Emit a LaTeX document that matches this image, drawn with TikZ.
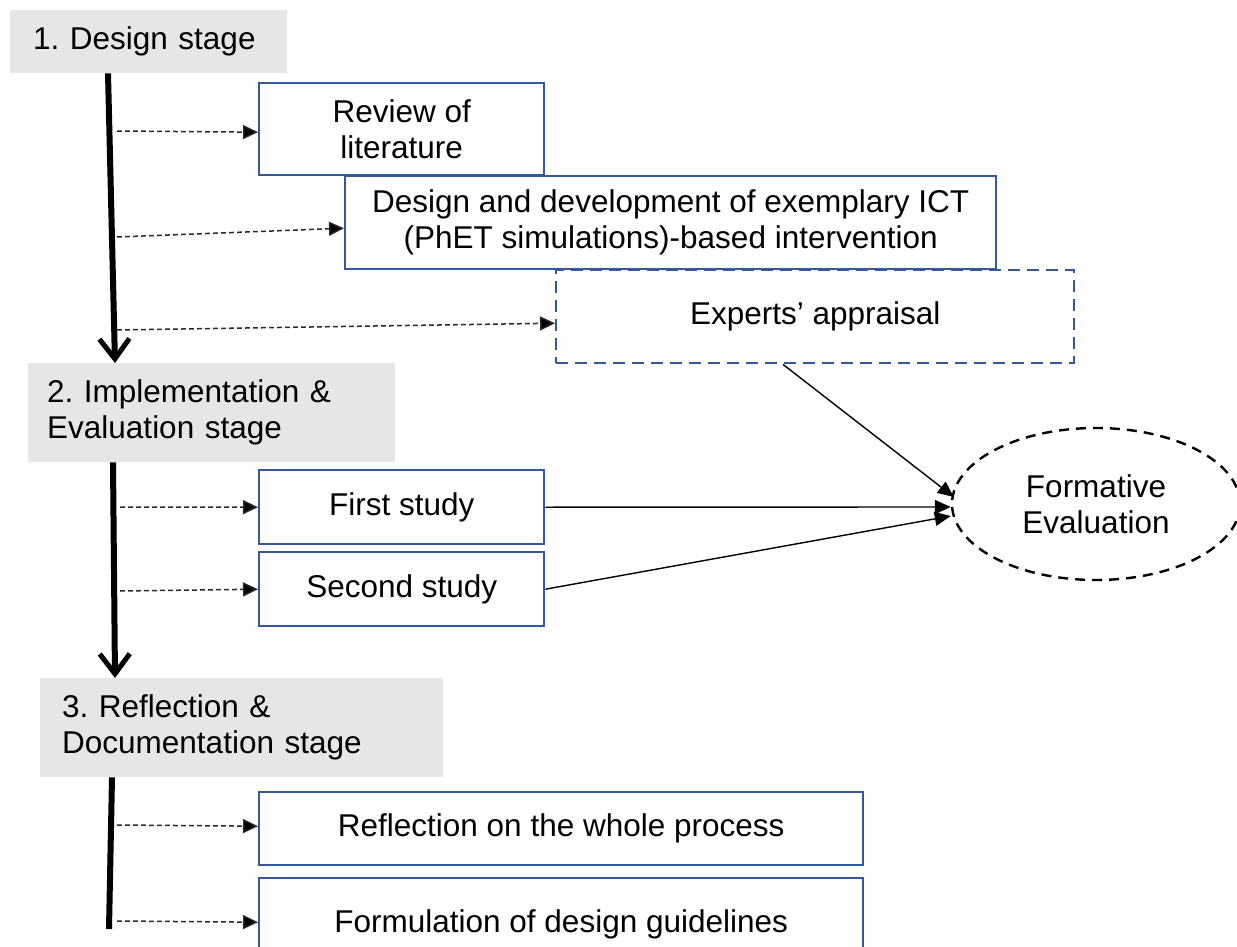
\documentclass[tikz,border=0pt]{standalone}
\usepackage{fontspec}
\setmainfont{Liberation Sans}
\usetikzlibrary{arrows.meta,shapes.geometric}
\definecolor{boxblue}{RGB}{52,88,154}
\definecolor{stagegray}{RGB}{230,230,230}
\definecolor{dashgray}{RGB}{40,40,40}
\frenchspacing

\begin{document}
\begin{tikzpicture}[x=1pt,y=-1pt,
  every node/.style={font=\fontsize{31.5}{36}\selectfont, inner sep=0pt},
  stagebox/.style={fill=stagegray, anchor=north west, align=left},
  taskbox/.style={draw=boxblue, line width=2.4pt, fill=white, anchor=north west, align=center},
  flow/.style={line width=6pt, -{Straight Barb[length=20pt,width=30pt,line width=5pt]}},
  spine/.style={line width=6pt},
  dasharrow/.style={draw=dashgray, line width=1.5pt, dash pattern=on 5pt off 3pt,
    -{Triangle[length=15pt,width=14pt,fill=black]}},
  feed/.style={line width=1.4pt, -{Triangle[length=16pt,width=14pt]}}
]
\useasboundingbox (0,0) rectangle (1237,947);

% stage headers
\node[stagebox, inner xsep=23pt, text width=231pt, minimum height=63pt] (s1) at (10,10) {1. Design stage};
\node[stagebox, inner xsep=19pt, text width=329pt, minimum height=99pt] (s2) at (28,363) {2. Implementation \&\\Evaluation stage};
\node[stagebox, inner xsep=22pt, text width=359pt, minimum height=99pt] (s3) at (40,678) {3. Reflection \&\\Documentation stage};

% design stage activities
\node[taskbox, minimum width=285pt, minimum height=92pt] (rev) at (258,82) {Review of\\literature};
\node[taskbox, minimum width=651pt, minimum height=93pt] (dev) at (344,175) {Design and development of exemplary ICT\\(PhET simulations)-based intervention};
\node[taskbox, draw=boxblue, dash pattern=on 12pt off 7pt, minimum width=518pt, minimum height=93pt] (exp) at (555,269) {Experts’ appraisal};

% implementation stage activities
\node[taskbox, minimum width=285pt, minimum height=74pt] (st1) at (258,469) {First study};
\node[taskbox, minimum width=285pt, minimum height=74pt] (st2) at (258,551) {Second study};

% reflection stage activities
\node[taskbox, minimum width=604pt, minimum height=73pt] (refl) at (258,791) {Reflection on the whole process};
\node[taskbox, minimum width=604pt, minimum height=93pt] (form) at (258,877) {Formulation of design guidelines};

% formative evaluation
\node[ellipse, draw, line width=2.4pt, dash pattern=on 10pt off 7pt, minimum width=288pt, minimum height=152pt, align=center] (fe) at (1096,504) {Formative\\Evaluation};

% main flow between stages
\draw[flow] ([xshift=98pt]s1.south west) -- ([xshift=87pt]s2.north west);
\draw[flow] ([xshift=85pt]s2.south west) -- ([xshift=75pt]s3.north west);
\draw[spine] ([xshift=72pt]s3.south west) -- (109,929);

% branches to activities
\coordinate (b1) at (117,131);
\coordinate (b2) at (117,237);
\coordinate (b3) at (117,330);
\coordinate (b4) at (120,507);
\coordinate (b5) at (120,591);
\coordinate (b6) at (117,825);
\coordinate (b7) at (117,921);
\draw[dasharrow] (b1) -- ([yshift=-3pt]rev.west);
\draw[dasharrow] (b2) -- ([yshift=-5.5pt]dev.west);
\draw[dasharrow] (b3) -- ([yshift=-6.5pt]exp.west);
\draw[dasharrow] (b4) -- (st1.west);
\draw[dasharrow] (b5) -- (st2.west);
\draw[dasharrow] (b6) -- ([yshift=2.5pt]refl.west);
\draw[dasharrow] (b7) -- ([yshift=2.5pt]form.west);

% feedback to formative evaluation
\draw[feed] ([xshift=228pt]exp.south west) -- ([xshift=3pt,yshift=7pt]fe.west);
\draw[feed] (st1.east) -- ([yshift=-3pt]fe.west);
\draw[feed] (st2.east) -- ([yshift=-12pt]fe.west);
\end{tikzpicture}
\end{document}
